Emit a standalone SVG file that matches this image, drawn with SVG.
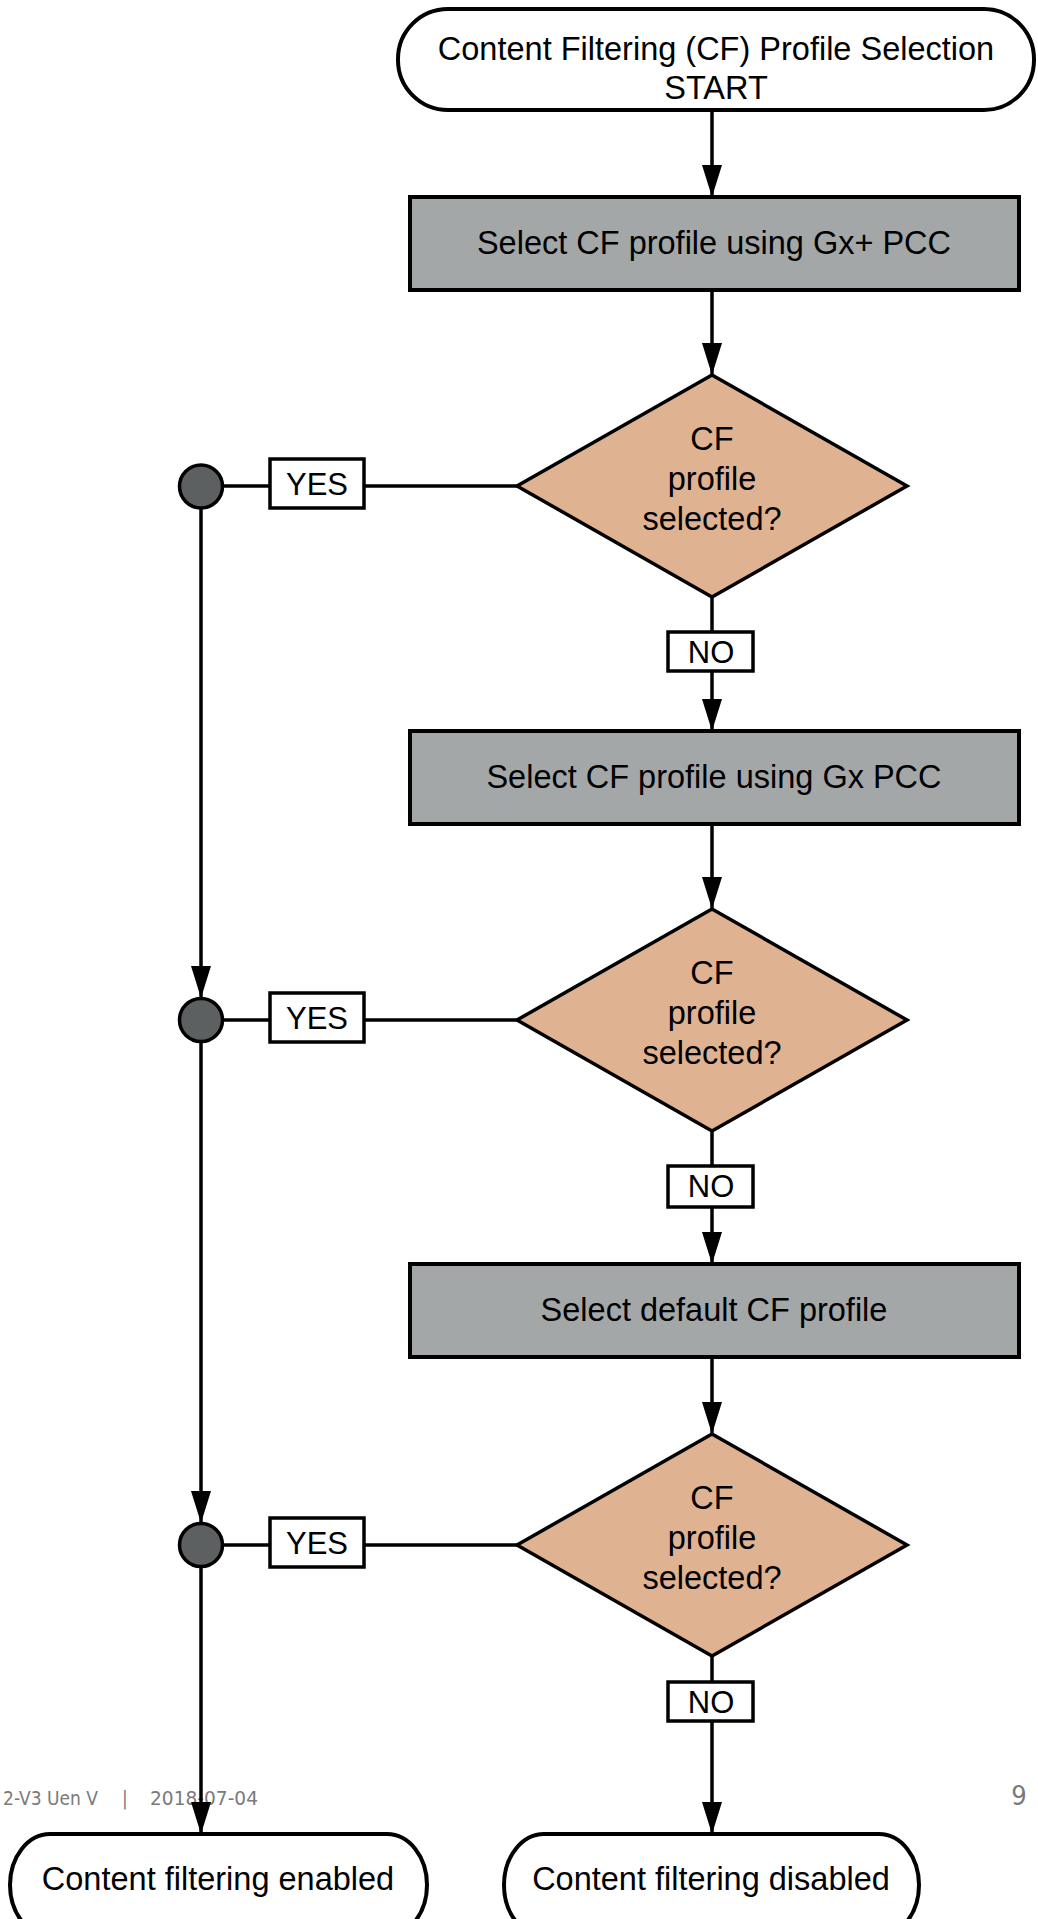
<svg xmlns="http://www.w3.org/2000/svg" width="1038" height="1919" viewBox="0 0 1038 1919">
<style>
  .t { font-family: "Liberation Sans", Arial, sans-serif; font-size: 32.5px; fill: #000; text-anchor: middle; }
  .lbl { font-family: "Liberation Sans", Arial, sans-serif; font-size: 31px; fill: #000; text-anchor: middle; }
  .term { fill: #fff; stroke: #000; stroke-width: 4; }
  .proc { fill: #a4a7a8; stroke: #000; stroke-width: 4; }
  .dec { fill: #dfb291; stroke: #000; stroke-width: 3.5; stroke-linejoin: miter; }
  .lab { fill: #fff; stroke: #000; stroke-width: 3.5; }
  .junc { fill: #5c6061; stroke: #000; stroke-width: 3.5; }
  .ln { fill: none; stroke: #000; stroke-width: 3.5; }
  .arr { fill: none; stroke: #000; stroke-width: 3.5; marker-end: url(#ah); }
  .foot { font-family: "DejaVu Sans Condensed", "DejaVu Sans", sans-serif; font-size: 19px; fill: #7a7a7a; }
</style>
<defs>
  <marker id="ah" markerWidth="32" markerHeight="20" refX="32" refY="10" viewBox="0 0 32 20" markerUnits="userSpaceOnUse" orient="auto">
    <path d="M0,0 L32,10 L0,20 Z" fill="#000"/>
  </marker>
</defs>

<g id="footer">
  <text class="foot" x="98" y="1805" text-anchor="end">2-V3 Uen V</text>
  <text class="foot" x="125" y="1805" text-anchor="middle">|</text>
  <text class="foot" x="150" y="1805" textLength="108" lengthAdjust="spacingAndGlyphs">2018-07-04</text>
  <text class="foot" x="1019" y="1805" text-anchor="middle" style="font-size:27px">9</text>
</g>

<g id="connectors">
  <line class="arr" x1="712" y1="110" x2="712" y2="197"/>
  <line class="arr" x1="712" y1="290" x2="712" y2="375"/>
  <line class="ln" x1="712" y1="597" x2="712" y2="632"/>
  <line class="arr" x1="712" y1="671" x2="712" y2="731"/>
  <line class="arr" x1="712" y1="824" x2="712" y2="909"/>
  <line class="ln" x1="712" y1="1131" x2="712" y2="1166"/>
  <line class="arr" x1="712" y1="1207" x2="712" y2="1264"/>
  <line class="arr" x1="712" y1="1357" x2="712" y2="1434"/>
  <line class="ln" x1="712" y1="1656" x2="712" y2="1682"/>
  <line class="arr" x1="712" y1="1721" x2="712" y2="1834"/>
  <line class="ln" x1="517" y1="486" x2="364" y2="486"/>
  <line class="ln" x1="270" y1="486" x2="222" y2="486"/>
  <line class="ln" x1="517" y1="1020" x2="364" y2="1020"/>
  <line class="ln" x1="270" y1="1020" x2="222" y2="1020"/>
  <line class="ln" x1="517" y1="1545" x2="364" y2="1545"/>
  <line class="ln" x1="270" y1="1545" x2="222" y2="1545"/>
  <line class="arr" x1="201" y1="508" x2="201" y2="998"/>
  <line class="arr" x1="201" y1="1042" x2="201" y2="1523"/>
  <line class="arr" x1="201" y1="1567" x2="201" y2="1834"/>
</g>

<g id="start">
  <rect class="term" x="398" y="9" width="636" height="101" rx="50" ry="50"/>
  <text class="t" x="716" y="60">Content Filtering (CF) Profile Selection</text>
  <text class="t" x="716" y="99">START</text>
</g>

<g id="box1">
  <rect class="proc" x="410" y="197" width="609" height="93"/>
  <text class="t" x="714" y="254">Select CF profile using Gx+ PCC</text>
</g>

<g id="dec1">
  <polygon class="dec" points="712,375 907,486 712,597 517,486"/>
  <text class="t" x="712" y="450">CF</text>
  <text class="t" x="712" y="490">profile</text>
  <text class="t" x="712" y="530">selected?</text>
</g>
<g id="yes1">
  <rect class="lab" x="270" y="459" width="94" height="49"/>
  <text class="lbl" x="317" y="495">YES</text>
</g>
<g id="j1"><circle class="junc" cx="201" cy="486.5" r="21.5"/></g>
<g id="no1">
  <rect class="lab" x="668" y="632" width="85" height="39"/>
  <text class="lbl" x="711" y="663">NO</text>
</g>

<g id="box2">
  <rect class="proc" x="410" y="731" width="609" height="93"/>
  <text class="t" x="714" y="788">Select CF profile using Gx PCC</text>
</g>

<g id="dec2">
  <polygon class="dec" points="712,909 907,1020 712,1131 517,1020"/>
  <text class="t" x="712" y="984">CF</text>
  <text class="t" x="712" y="1024">profile</text>
  <text class="t" x="712" y="1064">selected?</text>
</g>
<g id="yes2">
  <rect class="lab" x="270" y="993" width="94" height="49"/>
  <text class="lbl" x="317" y="1029">YES</text>
</g>
<g id="j2"><circle class="junc" cx="201" cy="1020" r="21.5"/></g>
<g id="no2">
  <rect class="lab" x="668" y="1166" width="85" height="41"/>
  <text class="lbl" x="711" y="1197">NO</text>
</g>

<g id="box3">
  <rect class="proc" x="410" y="1264" width="609" height="93"/>
  <text class="t" x="714" y="1321">Select default CF profile</text>
</g>

<g id="dec3">
  <polygon class="dec" points="712,1434 907,1545 712,1656 517,1545"/>
  <text class="t" x="712" y="1509">CF</text>
  <text class="t" x="712" y="1549">profile</text>
  <text class="t" x="712" y="1589">selected?</text>
</g>
<g id="yes3">
  <rect class="lab" x="270" y="1518" width="94" height="49"/>
  <text class="lbl" x="317" y="1554">YES</text>
</g>
<g id="j3"><circle class="junc" cx="201" cy="1545" r="21.5"/></g>
<g id="no3">
  <rect class="lab" x="668" y="1682" width="85" height="39"/>
  <text class="lbl" x="711" y="1713">NO</text>
</g>

<g id="enabled">
  <rect class="term" x="10" y="1834" width="417" height="102" rx="40" ry="51"/>
  <text class="t" x="218" y="1890">Content filtering enabled</text>
</g>
<g id="disabled">
  <rect class="term" x="504" y="1834" width="415" height="102" rx="40" ry="51"/>
  <text class="t" x="711" y="1890">Content filtering disabled</text>
</g>
</svg>
